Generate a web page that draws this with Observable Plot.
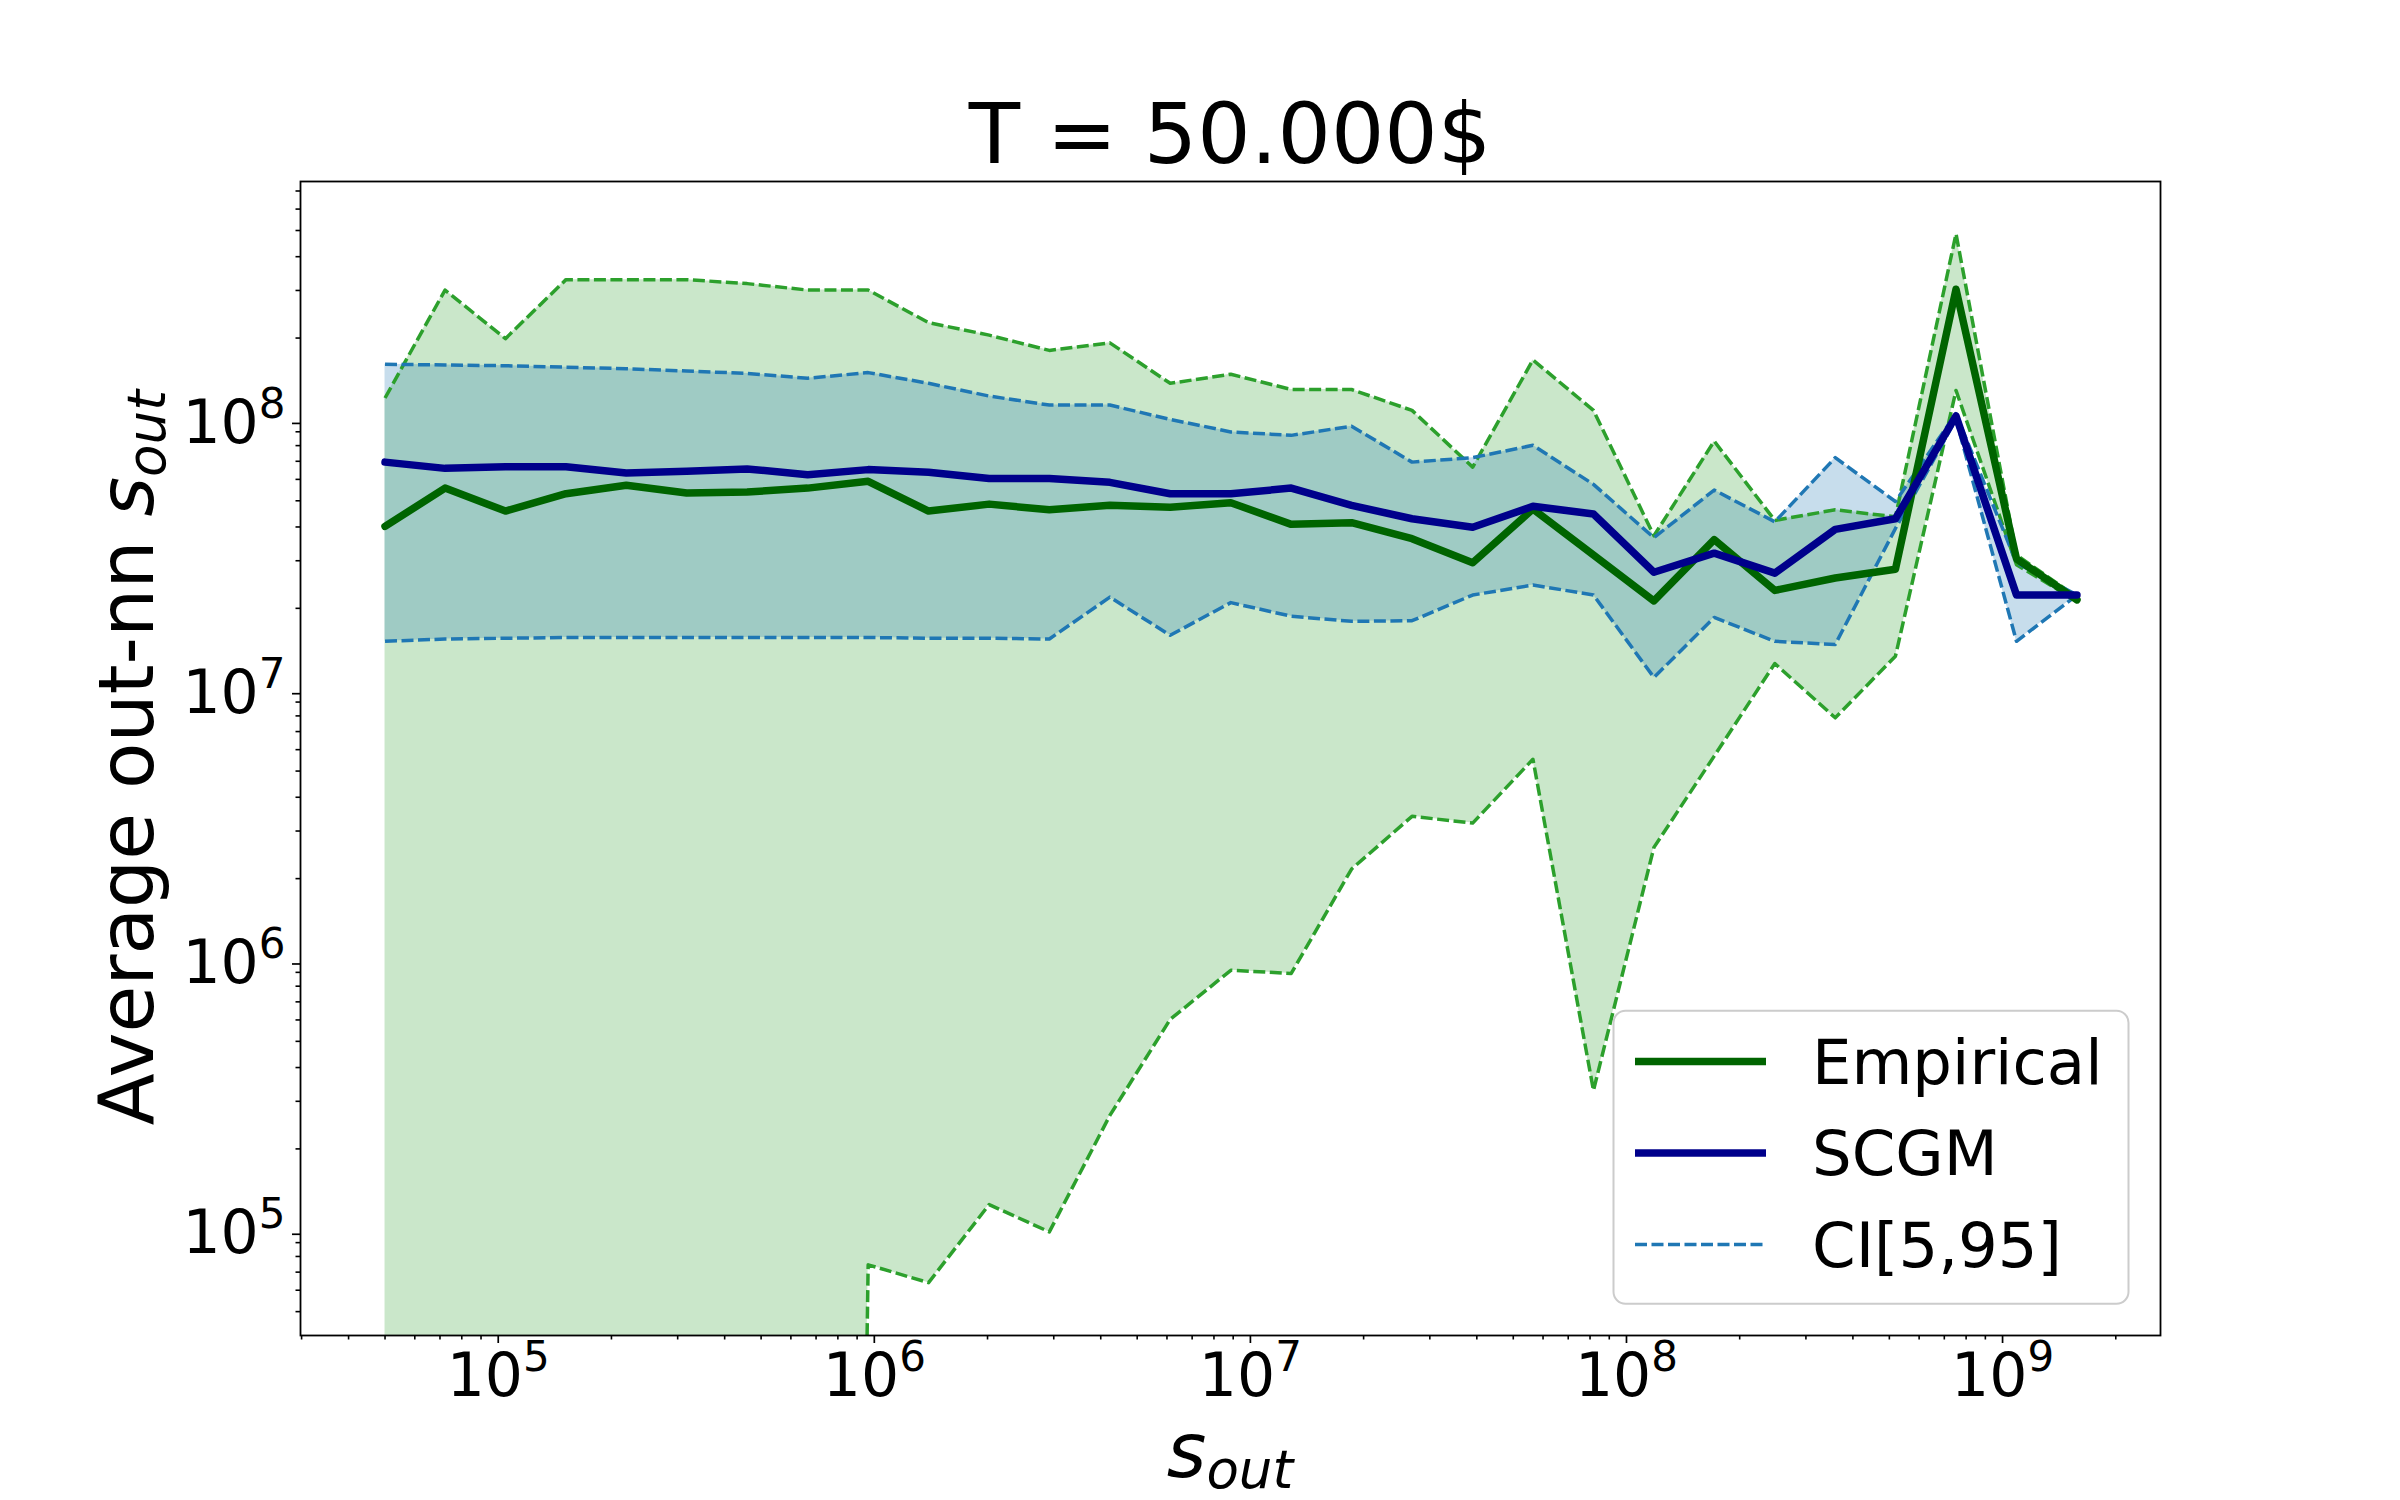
<!DOCTYPE html>
<html><head><meta charset="utf-8">
<script src="https://cdn.jsdelivr.net/npm/d3@7"></script>
<script src="https://cdn.jsdelivr.net/npm/@observablehq/plot@0.6"></script>
<style>
html,body{margin:0;padding:0;background:#fff;}
#wrap{width:2400px;height:1500px;overflow:hidden;font-family:"DejaVu Sans",sans-serif;background:#fff;}
#wrap svg{display:block;}
</style></head><body><div id="wrap"></div>
<script>
// ---- data ----
const sOut = [5.00e4, 7.22e4, 1.045e5, 1.514e5, 2.19e5, 3.17e5, 4.59e5, 6.65e5, 9.63e5, 1.394e6,
  2.02e6, 2.92e6, 4.23e6, 6.12e6, 8.87e6, 1.284e7, 1.858e7, 2.69e7, 3.90e7, 5.64e7,
  8.17e7, 1.183e8, 1.711e8, 2.48e8, 3.59e8, 5.19e8, 7.52e8, 1.089e9, 1.577e9];
const empirical = [4.02e7, 5.57e7, 4.58e7, 5.31e7, 5.71e7, 5.34e7, 5.39e7, 5.57e7, 5.90e7, 4.58e7,
  4.86e7, 4.63e7, 4.81e7, 4.73e7, 4.92e7, 4.09e7, 4.15e7, 3.62e7, 2.95e7, 4.66e7,
  3.15e7, 2.13e7, 3.59e7, 2.33e7, 2.59e7, 2.79e7, 3.03e8, 3.05e7, 2.15e7];
const scgm = [6.95e7, 6.59e7, 6.68e7, 6.68e7, 6.34e7, 6.43e7, 6.56e7, 6.24e7, 6.52e7, 6.38e7,
  6.04e7, 6.04e7, 5.85e7, 5.31e7, 5.31e7, 5.57e7, 4.81e7, 4.29e7, 3.99e7, 4.77e7,
  4.47e7, 2.72e7, 3.20e7, 2.70e7, 3.92e7, 4.29e7, 1.03e8, 2.24e7, 2.24e7];
const empLow = [0, 0, 0, 0, 0, 0, 0, 0, 7.45e4, 6.40e4,
  1.245e5, 9.86e4, 2.66e5, 6.03e5, 9.16e5, 8.92e5, 2.17e6, 3.40e6, 3.21e6, 5.53e6,
  3.29e5, 2.61e6, 5.68e6, 1.25e7, 7.87e6, 1.33e7, 1.28e8, 2.90e7, 2.13e7];
const empHigh = [1.20e8, 3.01e8, 1.99e8, 3.29e8, 3.29e8, 3.29e8, 3.18e8, 3.01e8, 3.01e8, 2.28e8,
  2.05e8, 1.80e8, 1.92e8, 1.36e8, 1.47e8, 1.29e8, 1.29e8, 1.08e8, 6.66e7, 1.66e8,
  1.08e8, 3.71e7, 8.31e7, 4.23e7, 4.63e7, 4.36e7, 4.86e8, 3.15e7, 2.20e7];
const scgmLow = [1.51e7, 1.54e7, 1.55e7, 1.56e7, 1.56e7, 1.56e7, 1.56e7, 1.56e7, 1.56e7, 1.55e7,
  1.55e7, 1.54e7, 2.20e7, 1.59e7, 2.10e7, 1.87e7, 1.79e7, 1.80e7, 2.24e7, 2.44e7,
  2.24e7, 1.11e7, 1.85e7, 1.51e7, 1.47e7, 3.95e7, 1.00e8, 1.51e7, 2.24e7];
const scgmHigh = [1.60e8, 1.59e8, 1.58e8, 1.56e8, 1.54e8, 1.51e8, 1.48e8, 1.42e8, 1.49e8, 1.36e8,
  1.22e8, 1.13e8, 1.13e8, 1.00e8, 8.99e7, 8.73e7, 9.44e7, 6.95e7, 7.22e7, 8.02e7,
  5.75e7, 3.65e7, 5.48e7, 4.18e7, 7.22e7, 4.97e7, 1.05e8, 2.95e7, 2.24e7];

const xTicks = [1e5, 1e6, 1e7, 1e8, 1e9];
const yTicks = [1e5, 1e6, 1e7, 1e8];
const xDomain = [2.98e4, 2.63e9];
const yDomain = [4.08e4, 7.59e8];
const seriesNames = ["Empirical", "SCGM", "CI[5,95]"];
const titleText = "T = 50.000$";

// ---- table ----
const FLOOR = 1e-10; // non-positive values clipped like a log axis does
const rows = sOut.map((x, i) => ({
  x, emp: empirical[i], scgm: scgm[i],
  gLo: Math.max(empLow[i], FLOOR), gHi: empHigh[i],
  bLo: scgmLow[i], bHi: scgmHigh[i]
}));

function minorTicks(domain) {
  const out = [];
  for (let k = Math.floor(Math.log10(domain[0])); k <= Math.ceil(Math.log10(domain[1])); k++) {
    for (let m = 2; m <= 9; m++) {
      const v = m * Math.pow(10, k);
      if (v >= domain[0] && v <= domain[1]) out.push(v);
    }
  }
  return out;
}
const fmt = d => "10^" + Math.round(Math.log10(d));

const GREEN = "#2ca02c", BLUE = "#1f77b4", DKGREEN = "#006400", NAVY = "#00008b";
const W = 2400, H = 1500;
const DASH = "12,4.5", DASH_W = 3.5, SOLID_W = 7.5;

const wrap = document.getElementById("wrap");
const dashed = {strokeWidth: DASH_W, strokeDasharray: DASH, strokeLinecap: "butt", strokeLinejoin: "round", clip: true};

const plot = Plot.plot({
  width: W,
  height: H,
  marginTop: 181,
  marginBottom: 165,
  marginLeft: 300,
  marginRight: 240,
  style: {fontFamily: "DejaVu Sans", fontSize: "60px", color: "#000", background: "#fff"},
  x: {type: "log", domain: xDomain, label: null},
  y: {type: "log", domain: yDomain, label: null},
  marks: [
    Plot.areaY(rows, {x: "x", y1: "gLo", y2: "gHi", fill: GREEN, fillOpacity: 0.25, clip: true}),
    Plot.areaY(rows, {x: "x", y1: "bLo", y2: "bHi", fill: BLUE, fillOpacity: 0.25, clip: true}),
    Plot.lineY(rows, {x: "x", y: "gLo", stroke: GREEN, ...dashed}),
    Plot.lineY(rows, {x: "x", y: "gHi", stroke: GREEN, ...dashed}),
    Plot.lineY(rows, {x: "x", y: "bLo", stroke: BLUE, ...dashed}),
    Plot.lineY(rows, {x: "x", y: "bHi", stroke: BLUE, ...dashed}),
    Plot.lineY(rows, {x: "x", y: "emp", stroke: DKGREEN, strokeWidth: SOLID_W, strokeLinejoin: "round", clip: true}),
    Plot.lineY(rows, {x: "x", y: "scgm", stroke: NAVY, strokeWidth: SOLID_W, strokeLinejoin: "round", clip: true}),
    Plot.axisX(minorTicks(xDomain), {tickSize: 4.5, strokeWidth: 1.6, tickFormat: () => "", label: null}),
    Plot.axisY(minorTicks(yDomain), {tickSize: 4.5, strokeWidth: 1.6, tickFormat: () => "", label: null}),
    Plot.axisX(xTicks, {tickSize: 8, tickPadding: 10, strokeWidth: 1.7, tickFormat: fmt, fontSize: 60, label: null}),
    Plot.axisY(yTicks, {tickSize: 8, tickPadding: 7, strokeWidth: 1.7, tickFormat: fmt, fontSize: 60, dy: 4, label: null}),
    Plot.frame({stroke: "#000", strokeWidth: 1.8})
  ]
});
wrap.appendChild(plot);

const svg = d3.select(plot);
// superscript exponents in tick labels
svg.selectAll("text").each(function () {
  const t = this.textContent;
  if (!/^10\^\d+$/.test(t)) return;
  const e = t.slice(3);
  const sel = d3.select(this);
  sel.selectAll("*").remove();
  sel.text(null);
  sel.append("tspan").text("10");
  sel.append("tspan").attr("font-size", 42).attr("dy", -25).text(e);
});

// title
svg.append("text").attr("x", 1230).attr("y", 163).attr("text-anchor", "middle")
  .attr("font-family", "DejaVu Sans").attr("font-size", 84).attr("fill", "#000").text(titleText);

// axis labels
const yl = svg.append("text")
  .attr("transform", "translate(153,757.6) rotate(-90)")
  .attr("text-anchor", "middle").attr("font-family", "DejaVu Sans").attr("font-size", 76).attr("fill", "#000");
yl.append("tspan").text("Average out-nn ");
yl.append("tspan").attr("font-style", "italic").text("s");
yl.append("tspan").attr("font-style", "italic").attr("font-size", 53).attr("dy", 12).text("out");

const xl = svg.append("text")
  .attr("x", 1230).attr("y", 1477)
  .attr("text-anchor", "middle").attr("font-family", "DejaVu Sans").attr("font-size", 76).attr("fill", "#000");
xl.append("tspan").attr("font-style", "italic").text("s");
xl.append("tspan").attr("font-style", "italic").attr("font-size", 53).attr("dy", 11).text("out");

// legend (lower right, inside the axes)
const lg = svg.append("g").attr("font-family", "DejaVu Sans").attr("font-size", 62.5).attr("text-anchor", "start");
lg.append("rect").attr("x", 1613.5).attr("y", 1010.7).attr("width", 515).attr("height", 293)
  .attr("rx", 12).attr("fill", "#fff").attr("fill-opacity", 0.8).attr("stroke", "#cccccc").attr("stroke-width", 2);
const entries = [
  {name: seriesNames[0], color: DKGREEN, w: SOLID_W, dash: null},
  {name: seriesNames[1], color: NAVY, w: SOLID_W, dash: null},
  {name: seriesNames[2], color: BLUE, w: DASH_W, dash: DASH}
];
const rowY = [1061.6, 1153, 1244.6];
entries.forEach((e, i) => {
  const y = rowY[i];
  const ln = lg.append("line").attr("x1", 1635).attr("x2", 1766).attr("y1", y).attr("y2", y)
    .attr("stroke", e.color).attr("stroke-width", e.w);
  if (e.dash) ln.attr("stroke-dasharray", e.dash);
  lg.append("text").attr("x", 1812).attr("y", y + 22).attr("text-anchor", "start").attr("fill", "#000").text(e.name);
});
</script></body></html>
